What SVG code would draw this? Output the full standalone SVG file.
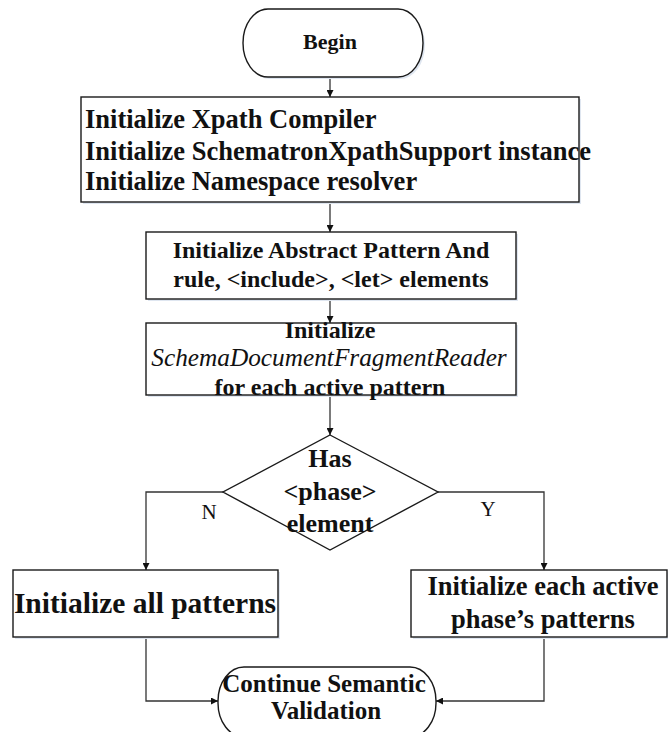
<svg xmlns="http://www.w3.org/2000/svg" width="668" height="732" viewBox="0 0 668 732">
  <style>
    .shape { fill: #ffffff; stroke: #1a1a1a; stroke-width: 1.4; }
    .shadow { fill: #dfe6f0; stroke: none; }
    .t { font-family: "Liberation Serif", "Times New Roman", serif; font-weight: bold; fill: #111111; text-anchor: middle; }
    .ts { text-anchor: start; }
    .ti { font-family: "Liberation Serif", "Times New Roman", serif; font-style: italic; fill: #111111; text-anchor: middle; }
    .lbl { font-family: "Liberation Serif", "Times New Roman", serif; fill: #111111; text-anchor: middle; font-size: 21px; }
    .conn { fill: none; stroke: #333333; stroke-width: 1.3; marker-end: url(#arrow); }
  </style>
  <defs>
    <marker id="arrow" viewBox="0 0 10 10" refX="10" refY="5" markerWidth="7" markerHeight="7" markerUnits="userSpaceOnUse" orient="auto">
      <path d="M0,0 L10,5 L0,10 z" fill="#111111"/>
    </marker>
  </defs>
  <rect width="668" height="732" fill="#ffffff"/>

  <!-- connectors and branch labels -->
  <g id="connectors">
    <path class="conn" d="M330,77 L330,97"/>
    <path class="conn" d="M330,202 L330,232"/>
    <path class="conn" d="M330,299 L330,323"/>
    <path class="conn" d="M330,395 L330,435"/>
    <path class="conn" d="M223,492 L146,492 L146,570"/>
    <path class="conn" d="M438,492 L544,492 L544,570"/>
    <path class="conn" d="M146,637 L146,701 L218,701"/>
    <path class="conn" d="M544,637 L544,701 L436,701"/>
    <text class="lbl" x="209" y="519">N</text>
    <text class="lbl" x="488" y="516">Y</text>
  </g>

  <g id="begin">
    <rect class="shadow" x="245" y="11" width="180" height="68" rx="25" ry="34"/>
    <rect class="shape" x="243" y="9" width="180" height="68" rx="25" ry="34"/>
    <text class="t" x="330" y="49" font-size="22">Begin</text>
  </g>

  <g id="init-xpath">
    <rect class="shadow" x="83" y="99" width="498" height="105"/>
    <rect class="shape" x="81" y="97" width="498" height="105"/>
    <text class="t ts" x="85" y="128" font-size="26.5">Initialize Xpath Compiler</text>
    <text class="t ts" x="85" y="160" font-size="26.5">Initialize SchematronXpathSupport instance</text>
    <text class="t ts" x="85" y="190" font-size="26.5">Initialize Namespace resolver</text>
  </g>

  <g id="init-abstract">
    <rect class="shadow" x="148" y="234" width="370" height="67"/>
    <rect class="shape" x="146" y="232" width="370" height="67"/>
    <text class="t" x="331" y="258" font-size="24">Initialize Abstract Pattern And</text>
    <text class="t" x="331" y="287" font-size="24">rule, &lt;include&gt;, &lt;let&gt; elements</text>
  </g>

  <g id="init-reader">
    <rect class="shadow" x="148" y="325" width="370" height="72"/>
    <rect class="shape" x="146" y="323" width="370" height="72"/>
    <text class="t" x="330" y="338" font-size="24">Initialize</text>
    <text class="ti" x="329" y="366" font-size="25.3">SchemaDocumentFragmentReader</text>
    <text class="t" x="330" y="395" font-size="24">for each active pattern</text>
  </g>

  <g id="has-phase">
    <polygon class="shape" points="330,435 438,492 330,550 223,492"/>
    <text class="t" x="330" y="467" font-size="26">Has</text>
    <text class="t" x="330" y="500" font-size="26">&lt;phase&gt;</text>
    <text class="t" x="330" y="532" font-size="26">element</text>
  </g>

  <g id="init-all">
    <rect class="shadow" x="15" y="572" width="265" height="67"/>
    <rect class="shape" x="13" y="570" width="265" height="67"/>
    <text class="t" x="145" y="613" font-size="29.5">Initialize all patterns</text>
  </g>

  <g id="init-phase">
    <rect class="shadow" x="413" y="572" width="256" height="67"/>
    <rect class="shape" x="411" y="570" width="256" height="67"/>
    <text class="t" x="543" y="595" font-size="26.5">Initialize each active</text>
    <text class="t" x="543" y="628" font-size="26.5">phase’s patterns</text>
  </g>

  <g id="continue">
    <rect class="shape" x="218" y="667" width="218" height="70" rx="26" ry="34"/>
    <text class="t" x="324" y="692" font-size="25">Continue Semantic</text>
    <text class="t" x="326" y="719" font-size="25">Validation</text>
  </g>
</svg>
